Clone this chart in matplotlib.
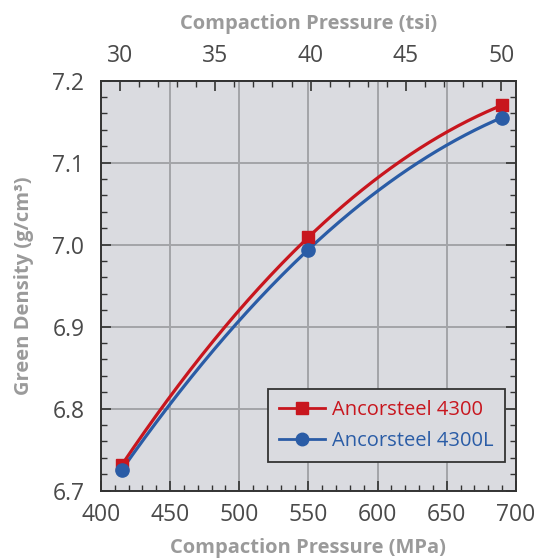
import numpy as np
import matplotlib
matplotlib.use("Agg")
import matplotlib.pyplot as plt
from matplotlib.ticker import MultipleLocator

# Data
pressure_mpa = [415, 550, 690]
density_4300 = [6.731, 7.009, 7.170]
density_4300L = [6.725, 6.994, 7.155]
series_names = ["Ancorsteel 4300", "Ancorsteel 4300L"]
x_ticks = [400, 450, 500, 550, 600, 650, 700]
y_ticks = [6.7, 6.8, 6.9, 7.0, 7.1, 7.2]
tsi_ticks = [30, 35, 40, 45, 50]
MPA_PER_TSI = 13.79

RED = "#c8161e"
BLUE = "#2a5ca6"
BG = "#dadbe0"
TICK_C = "#4a4a4a"
LABEL_C = "#9a9a9a"

plt.rcParams['font.family'] = ['Open Sans', 'DejaVu Sans']

fig = plt.figure(figsize=(5.34, 5.60), dpi=100)
ax = fig.add_axes([0.189, 0.124, 0.777, 0.732])
ax.set_facecolor(BG)

def smooth(x, y):
    c = np.polyfit(x, y, 2)
    xs = np.linspace(min(x), max(x), 200)
    return xs, np.polyval(c, xs)

xs, ys = smooth(pressure_mpa, density_4300)
ax.plot(xs, ys, color=RED, lw=2.3, zorder=3)
xs, ys = smooth(pressure_mpa, density_4300L)
ax.plot(xs, ys, color=BLUE, lw=2.3, zorder=3)
ax.plot(pressure_mpa, density_4300, 's', color=RED, ms=9, zorder=4)
ax.plot(pressure_mpa, density_4300L, 'o', color=BLUE, ms=9.5, zorder=5)

# legend proxies
h1, = ax.plot([], [], '-s', color=RED, lw=2.0, ms=9)
h2, = ax.plot([], [], '-o', color=BLUE, lw=2.0, ms=9)
leg = ax.legend([h1, h2], series_names, loc='lower right',
                bbox_to_anchor=(0.973, 0.07), fontsize=14.5,
                frameon=True, fancybox=False, handlelength=2.3,
                handletextpad=0.35, borderpad=0.55, labelspacing=0.55,
                borderaxespad=0)
leg.get_frame().set_edgecolor("#333333")
leg.get_frame().set_facecolor(BG)
leg.get_frame().set_alpha(1)
leg.get_frame().set_linewidth(1.3)
for t, c in zip(leg.get_texts(), [RED, BLUE]):
    t.set_color(c)

ax.set_xlim(400, 700)
ax.set_ylim(6.7, 7.2)
ax.set_xticks(x_ticks)
ax.set_yticks(y_ticks)
ax.set_yticklabels([f"{v:.1f}" for v in y_ticks])
ax.xaxis.set_minor_locator(MultipleLocator(10))
ax.yaxis.set_minor_locator(MultipleLocator(0.02))
ax.grid(True, which='major', color="#a3a4a8", lw=1.4, zorder=1)
ax.set_axisbelow(True)

ax.tick_params(axis='both', which='major', direction='in', length=7, width=1.2,
               colors="#333333", labelcolor=TICK_C, labelsize=16.5)
ax.tick_params(axis='both', which='minor', direction='in', length=4, width=1.0,
               colors="#333333")
ax.tick_params(axis='y', which='both', right=True)
ax.tick_params(axis='y', which='major', pad=12)
ax.tick_params(axis='x', which='major', pad=9)
for s in ax.spines.values():
    s.set_color("#333333")
    s.set_linewidth(1.4)

sec = ax.secondary_xaxis('top', functions=(lambda m: m / MPA_PER_TSI,
                                            lambda t: t * MPA_PER_TSI))
sec.set_xticks(tsi_ticks)
sec.xaxis.set_minor_locator(MultipleLocator(1))
sec.tick_params(which='major', direction='in', length=7, width=1.2,
                colors="#333333", labelcolor=TICK_C, labelsize=16.5, pad=9)
sec.tick_params(which='minor', direction='in', length=4, width=1.0,
                colors="#333333")
sec.spines['top'].set_linewidth(1.4)
sec.spines['top'].set_color("#333333")

lab_font = dict(fontsize=14.5, fontweight='bold', color=LABEL_C)
ax.set_xlabel("Compaction Pressure (MPa)", labelpad=8, **lab_font)
sec.set_xlabel("Compaction Pressure (tsi)", labelpad=11, **lab_font)
ax.set_ylabel("Green Density (g/cm³)", labelpad=13, **lab_font)

fig.savefig("out.png", dpi=100)
